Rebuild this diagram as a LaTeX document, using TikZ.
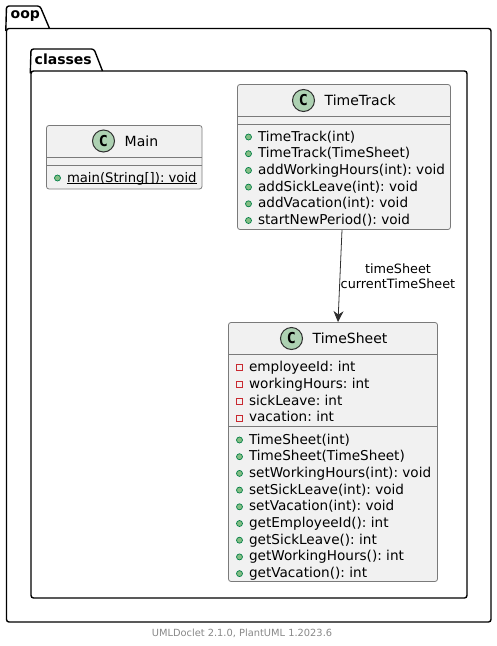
\documentclass[tikz,border=0pt]{standalone}
\usepackage{fontspec}
\setmainfont{DejaVu Sans}
\setmonofont{DejaVu Sans Mono}
\usepackage{tikz}
\usetikzlibrary{arrows.meta, positioning}
\frenchspacing
\definecolor{mbox}{HTML}{F1F1F1}
\definecolor{mline}{HTML}{7A7A7A}
\definecolor{marrow}{HTML}{303030}
\definecolor{mspot}{HTML}{ADD1B2}
\definecolor{mpub}{HTML}{84BE84}
\definecolor{mpubline}{HTML}{038048}
\definecolor{mpriv}{HTML}{C82930}
\definecolor{mfoot}{HTML}{888888}
\tikzstyle{package} = [rectangle, rounded corners=2.5pt, line width=1.4pt, draw=black, inner sep=0pt]
\tikzstyle{pkgtab} = [line width=1.4pt, draw=black, rounded corners=2.5pt]
\tikzstyle{pkgname} = [inner sep=0pt, anchor=west, font=\fontsize{14}{16}\selectfont\bfseries]
\tikzstyle{classbox} = [rectangle, rounded corners=2.5pt, line width=0.8pt, draw=mline, fill=mbox, inner sep=0pt]
\tikzstyle{sepline} = [line width=0.8pt, draw=mline]
\tikzstyle{spot} = [circle, minimum size=22pt, inner sep=0pt, line width=1pt, draw=marrow, fill=mspot, font=\fontsize{15}{16}\selectfont\bfseries\ttfamily]
\tikzstyle{classname} = [inner sep=0pt, anchor=west, font=\fontsize{14}{16}\selectfont]
\tikzstyle{member} = [inner sep=0pt, anchor=west, text height=11pt, text depth=3pt, font=\fontsize{13.6}{16}\selectfont]
\tikzstyle{pubdot} = [circle, minimum size=6pt, inner sep=0pt, line width=0.7pt, draw=mpubline, fill=mpub]
\tikzstyle{privbox} = [rectangle, minimum size=6pt, inner sep=0pt, line width=0.8pt, draw=mpriv]
\tikzstyle{edgetext} = [inner sep=0pt, align=center, font=\fontsize{12.8}{15}\selectfont]
\tikzstyle{assoc} = [line width=0.8pt, draw=marrow, -{Stealth[inset=3.5pt, length=11pt, width=10pt]}]
\begin{document}
\begin{tikzpicture}[x=1pt, y=-1pt, node distance=10pt and 6pt]
  \useasboundingbox (0,0) rectangle (496,646);
  % packages
  \node (oop) [package, minimum width=484.5pt, minimum height=593.5pt] at (248.75,325.25) {};
  \draw [pkgtab] ([yshift=-3pt]oop.north west) -- (6.5,6) -- (40,6) -- (49.5,28.5);
  \node (oopname) [pkgname] at (10.5,16.5) {oop};
  \node (classes) [package, minimum width=436pt, minimum height=527pt] at (249,334.5) {};
  \draw [pkgtab] ([yshift=-3pt]classes.north west) -- (31,49) -- (94,49) -- (102.5,71);
  \node (classesname) [pkgname] at (34.5,59.5) {classes};
  % Main
  \node (main) [classbox, minimum width=155.5pt, minimum height=63.5pt] at (124.25,157.25) {};
  \draw [sepline] ([yshift=-32pt]main.north west) -- ([yshift=-32pt]main.north east);
  \draw [sepline] ([yshift=-40pt]main.north west) -- ([yshift=-40pt]main.north east);
  \node (mainspot) [spot] at (103.5,141) {C};
  \node (mainname) [classname, right=9.5pt of mainspot] {Main};
  \node (maindot) [pubdot] at (57.5,178) {};
  \node (main1) [member, right=of maindot, font=\fontsize{13.2}{16}\selectfont] {\underline{\smash{main(String[]): void}}};
  % TimeTrack
  \node (timetrack) [classbox, minimum width=213pt, minimum height=145pt] at (344,157) {};
  \draw [sepline] ([yshift=-32pt]timetrack.north west) -- ([yshift=-32pt]timetrack.north east);
  \draw [sepline] ([yshift=-40pt]timetrack.north west) -- ([yshift=-40pt]timetrack.north east);
  \node (trackspot) [spot] at (303.5,100.5) {C};
  \node (trackname) [classname, right=9.5pt of trackspot] {TimeTrack};
  \node (trackdot1) [pubdot] at (248.5,137) {};
  \node (track1) [member, right=of trackdot1] {TimeTrack(int)};
  \node (trackdot2) [pubdot, below=of trackdot1] {};
  \node (track2) [member, right=of trackdot2] {TimeTrack(TimeSheet)};
  \node (trackdot3) [pubdot, below=of trackdot2] {};
  \node (track3) [member, right=of trackdot3] {addWorkingHours(int): void};
  \node (trackdot4) [pubdot, below=of trackdot3] {};
  \node (track4) [member, right=of trackdot4] {addSickLeave(int): void};
  \node (trackdot5) [pubdot, below=of trackdot4] {};
  \node (track5) [member, right=of trackdot5] {addVacation(int): void};
  \node (trackdot6) [pubdot, below=of trackdot5] {};
  \node (track6) [member, right=of trackdot6] {startNewPeriod(): void};
  % TimeSheet
  \node (timesheet) [classbox, minimum width=209pt, minimum height=259pt] at (333,452) {};
  \draw [sepline] ([yshift=-32pt]timesheet.north west) -- ([yshift=-32pt]timesheet.north east);
  \draw [sepline] ([yshift=-104.5pt]timesheet.north west) -- ([yshift=-104.5pt]timesheet.north east);
  \node (sheetspot) [spot] at (291.5,338.5) {C};
  \node (sheetname) [classname, right=9.5pt of sheetspot] {TimeSheet};
  \node (privbox1) [privbox] at (239.5,367.5) {};
  \node (field1) [member, right=of privbox1] {employeeId: int};
  \node (privbox2) [privbox, below=of privbox1] {};
  \node (field2) [member, right=of privbox2] {workingHours: int};
  \node (privbox3) [privbox, below=of privbox2] {};
  \node (field3) [member, right=of privbox3] {sickLeave: int};
  \node (privbox4) [privbox, below=of privbox3] {};
  \node (field4) [member, right=of privbox4] {vacation: int};
  \node (sheetdot1) [pubdot] at (239.5,440) {};
  \node (sheet1) [member, right=of sheetdot1] {TimeSheet(int)};
  \node (sheetdot2) [pubdot, below=of sheetdot1] {};
  \node (sheet2) [member, right=of sheetdot2] {TimeSheet(TimeSheet)};
  \node (sheetdot3) [pubdot, below=of sheetdot2] {};
  \node (sheet3) [member, right=of sheetdot3] {setWorkingHours(int): void};
  \node (sheetdot4) [pubdot, below=of sheetdot3] {};
  \node (sheet4) [member, right=of sheetdot4] {setSickLeave(int): void};
  \node (sheetdot5) [pubdot, below=of sheetdot4] {};
  \node (sheet5) [member, right=of sheetdot5] {setVacation(int): void};
  \node (sheetdot6) [pubdot, below=of sheetdot5] {};
  \node (sheet6) [member, right=of sheetdot6] {getEmployeeId(): int};
  \node (sheetdot7) [pubdot, below=of sheetdot6] {};
  \node (sheet7) [member, right=of sheetdot7] {getSickLeave(): int};
  \node (sheetdot8) [pubdot, below=of sheetdot7] {};
  \node (sheet8) [member, right=of sheetdot8] {getWorkingHours(): int};
  \node (sheetdot9) [pubdot, below=of sheetdot8] {};
  \node (sheet9) [member, right=of sheetdot9] {getVacation(): int};
  % connector
  \draw [assoc] ([xshift=-2pt]timetrack.south) -- node (assoclabel) [edgetext, xshift=58pt] {timeSheet\\currentTimeSheet} ([xshift=5pt]timesheet.north);
  % footer
  \node (footer) [inner sep=0pt, text=mfoot, font=\fontsize{9.85}{12}\selectfont] at (242,633) {UMLDoclet 2.1.0, PlantUML 1.2023.6};
\end{tikzpicture}
\end{document}
